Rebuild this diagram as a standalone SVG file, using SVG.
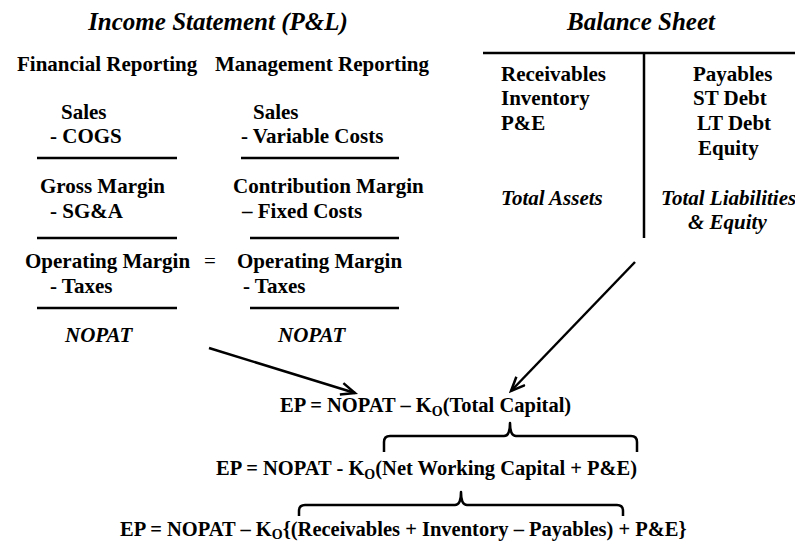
<svg xmlns="http://www.w3.org/2000/svg" width="795" height="544" viewBox="0 0 795 544">
  <style>
    text { font-family: "Liberation Serif", "Times New Roman", serif; font-weight: bold; fill: #000; font-size: 21px; }
    .title { font-size: 25px; font-style: italic; }
    .it { font-style: italic; }
    .eq { font-size: 20.5px; }
    .sub { font-size: 14px; }
    .thin { font-weight: normal; }
    .rule { stroke: #000; stroke-width: 2.5; fill: none; }
    .conn { stroke: #000; stroke-width: 2.5; fill: none; }
    .brace { stroke: #000; stroke-width: 2.5; fill: none; stroke-linejoin: round; }
  </style>
  <defs>
    <marker id="arrow" markerUnits="userSpaceOnUse" markerWidth="18" markerHeight="16" refX="15" refY="7" orient="auto">
      <path d="M1,1 L15,7 L1,13" fill="none" stroke="#000" stroke-width="2.5" stroke-linejoin="miter"/>
    </marker>
  </defs>

  <rect width="795" height="544" fill="#fff"/>

  <!-- Income statement -->
  <g id="income-statement">
    <text class="title" x="218" y="30" text-anchor="middle">Income Statement (P&amp;L)</text>
    <g id="financial-reporting">
      <text x="17" y="71">Financial Reporting</text>
      <text x="61" y="119">Sales</text>
      <text x="50" y="143">- COGS</text>
      <line class="rule" x1="37" y1="158" x2="177" y2="158"/>
      <text x="40" y="193">Gross Margin</text>
      <text x="50" y="218">- SG&amp;A</text>
      <line class="rule" x1="37" y1="238" x2="177" y2="238"/>
      <text x="25" y="268">Operating Margin</text>
      <text x="50" y="293">- Taxes</text>
      <line class="rule" x1="37" y1="308" x2="177" y2="308"/>
      <text class="it" x="65" y="342">NOPAT</text>
    </g>
    <text class="thin" x="204" y="268">=</text>
    <g id="management-reporting">
      <text x="215" y="71">Management Reporting</text>
      <text x="253" y="119">Sales</text>
      <text x="241" y="143">- Variable Costs</text>
      <line class="rule" x1="241" y1="158" x2="399" y2="158"/>
      <text x="233" y="193">Contribution Margin</text>
      <text x="242" y="218">– Fixed Costs</text>
      <line class="rule" x1="250" y1="238" x2="399" y2="238"/>
      <text x="237" y="268">Operating Margin</text>
      <text x="243" y="293">- Taxes</text>
      <line class="rule" x1="250" y1="308" x2="399" y2="308"/>
      <text class="it" x="278" y="342">NOPAT</text>
    </g>
  </g>

  <!-- Balance sheet -->
  <g id="balance-sheet">
    <text class="title" x="641" y="30" text-anchor="middle">Balance Sheet</text>
    <line class="rule" x1="483" y1="53" x2="795" y2="53"/>
    <line class="rule" x1="644" y1="53" x2="644" y2="238"/>
    <g id="assets">
      <text x="501" y="81">Receivables</text>
      <text x="501" y="105">Inventory</text>
      <text x="501" y="130">P&amp;E</text>
      <text class="it" x="501" y="205">Total Assets</text>
    </g>
    <g id="liabilities">
      <text x="693" y="81">Payables</text>
      <text x="693" y="105">ST Debt</text>
      <text x="697" y="130">LT Debt</text>
      <text x="698" y="155">Equity</text>
      <text class="it" x="661" y="205">Total Liabilities</text>
      <text class="it" x="688" y="229">&amp; Equity</text>
    </g>
  </g>

  <!-- Economic profit equations -->
  <g id="ep-total-capital">
    <text class="eq" x="280" y="412">EP = NOPAT – K<tspan class="sub" dy="4">O</tspan><tspan dy="-4">(Total Capital)</tspan></text>
  </g>
  <g id="ep-working-capital">
    <text class="eq" x="216" y="475">EP = NOPAT - K<tspan class="sub" dy="4">O</tspan><tspan dy="-4">(Net Working Capital + P&amp;E)</tspan></text>
  </g>
  <g id="ep-components">
    <text class="eq" x="120" y="536">EP = NOPAT – K<tspan class="sub" dy="3">O</tspan><tspan dy="-3">{(Receivables + Inventory – Payables) + P&amp;E}</tspan></text>
  </g>

  <!-- Connectors: arrows and braces -->
  <g id="connectors">
    <line class="conn" x1="209" y1="348" x2="355" y2="393" marker-end="url(#arrow)"/>
    <line class="conn" x1="635" y1="262" x2="511" y2="391" marker-end="url(#arrow)"/>
    <path class="brace" d="M384,452 L384,442 Q384,436 390,436 L504,436 Q510,436 510,423 Q510,436 516,436 L631,436 Q637,436 637,442 L637,452"/>
    <path class="brace" d="M299,516 L299,511 Q299,505 305,505 L455,505 Q461,505 461,492 Q461,505 467,505 L617,505 Q623,505 623,511 L623,516"/>
  </g>
</svg>
